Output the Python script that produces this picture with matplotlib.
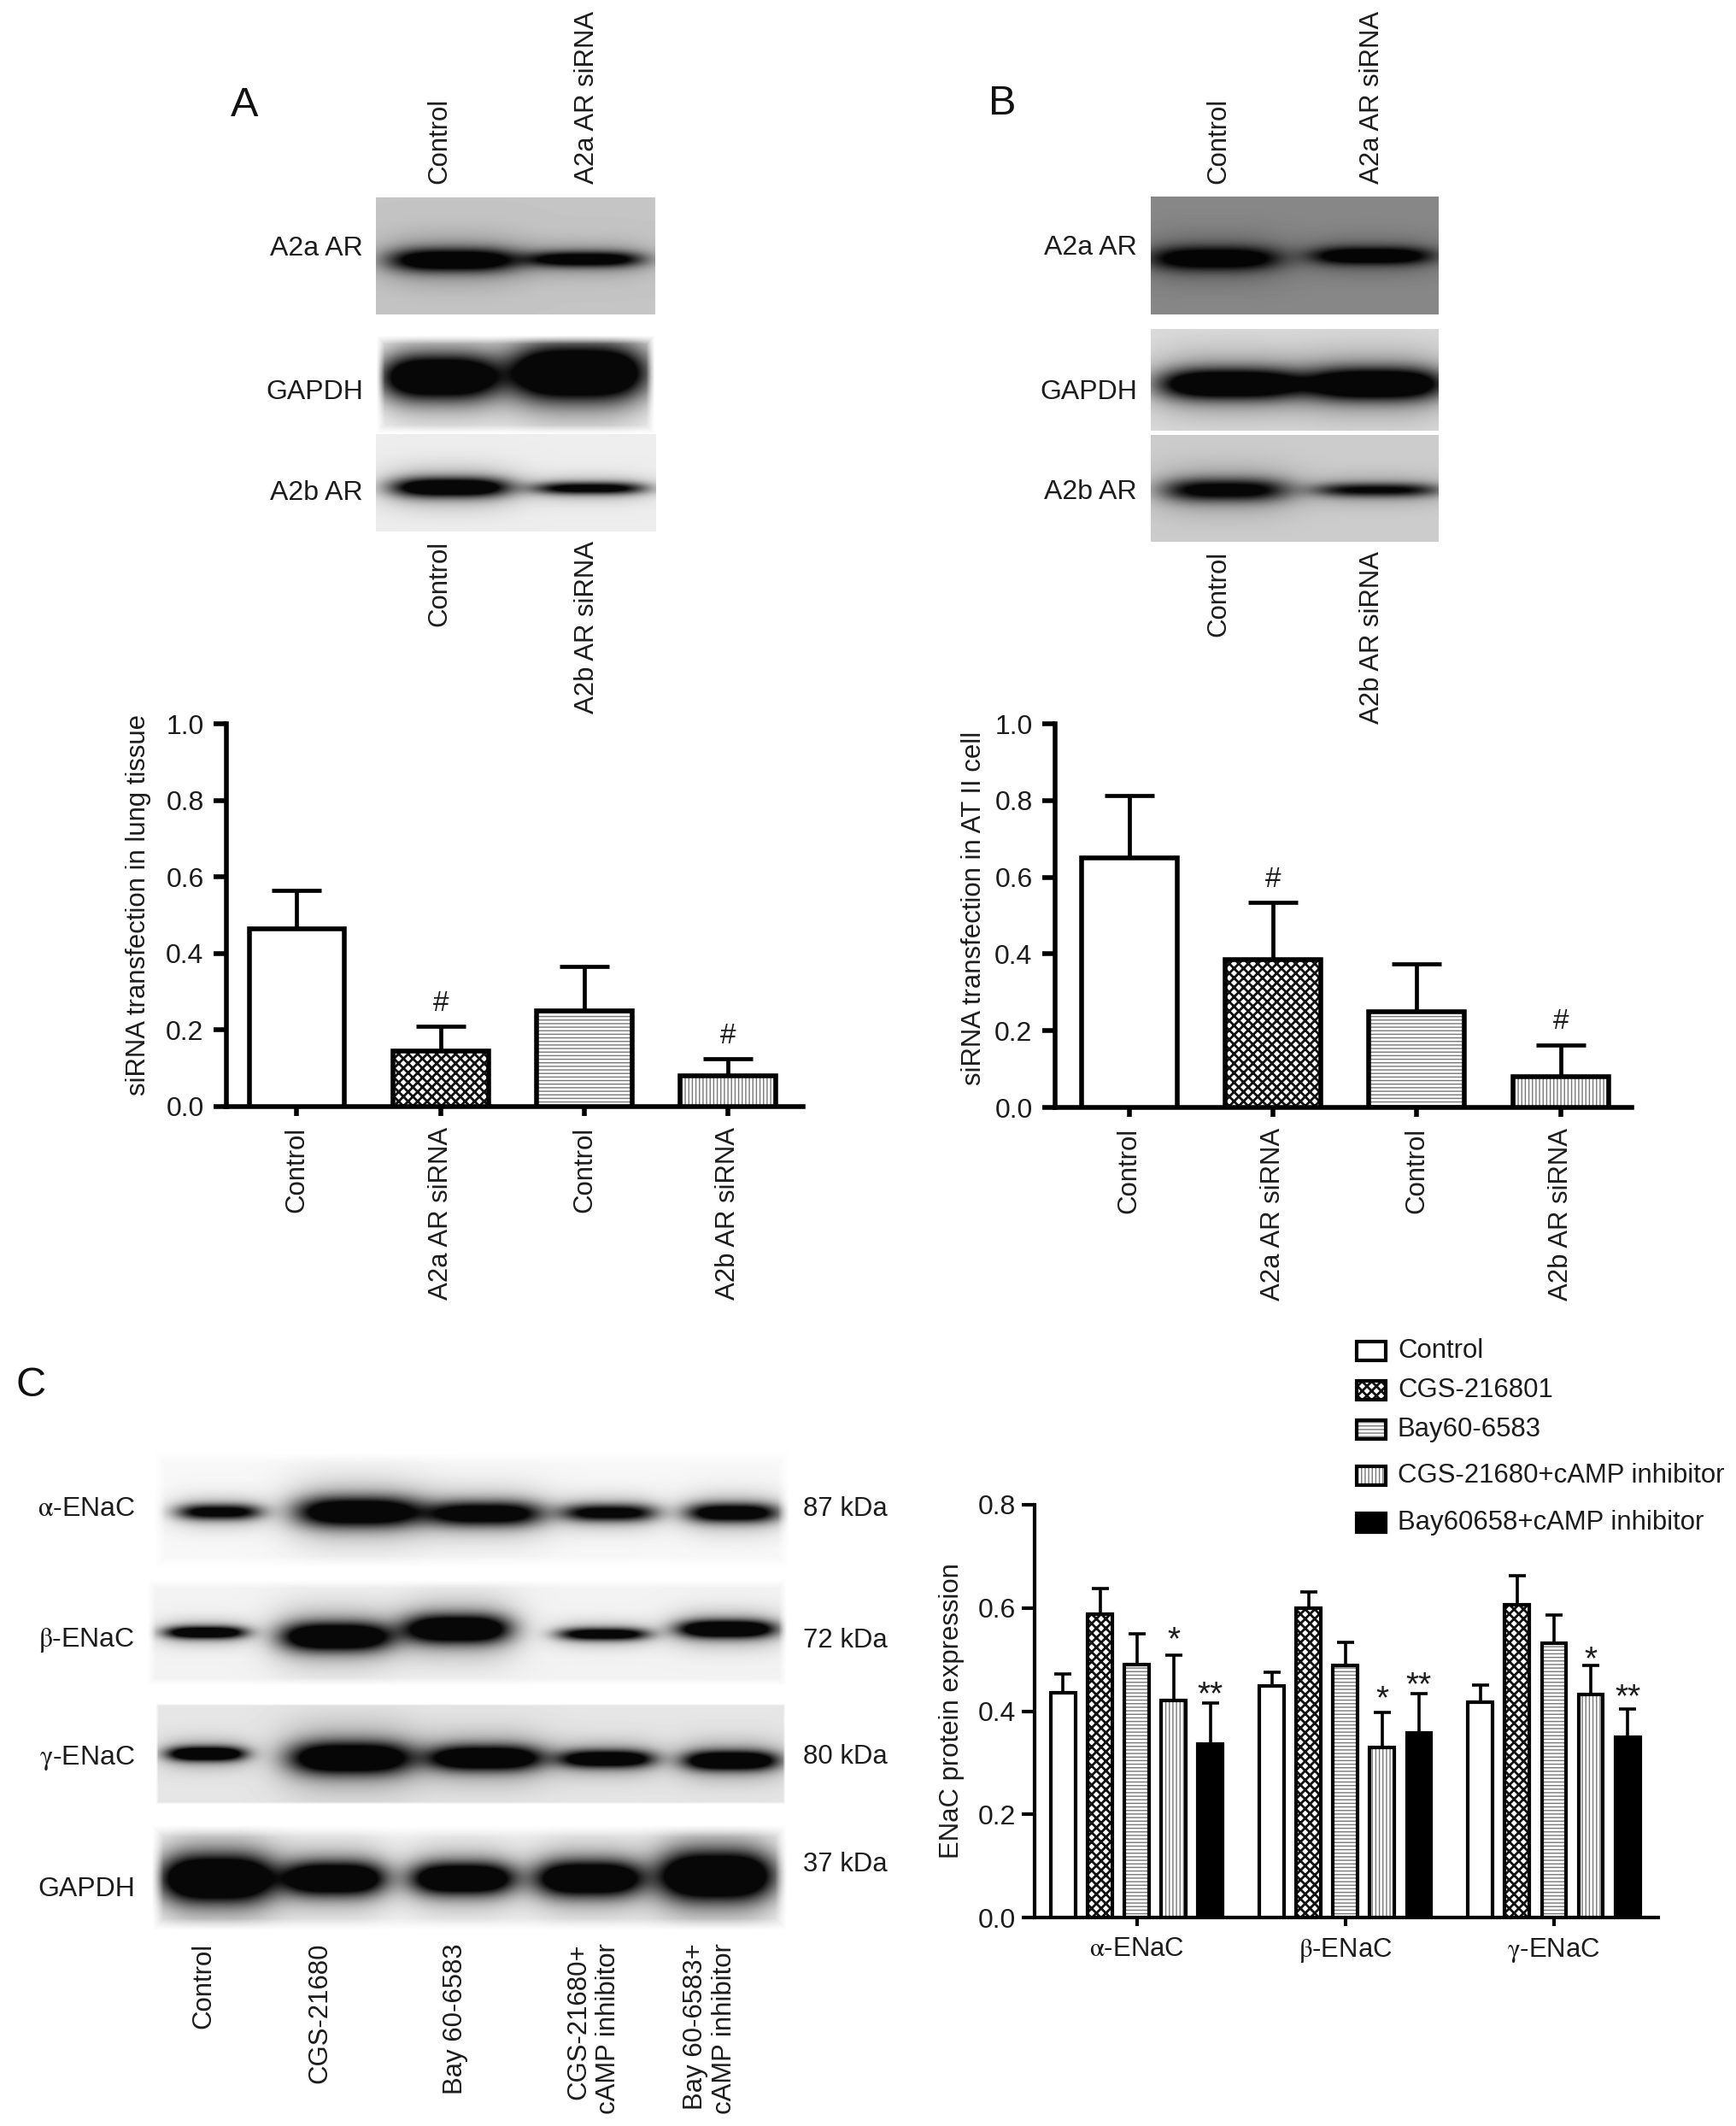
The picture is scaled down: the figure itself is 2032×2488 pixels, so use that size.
import numpy as np
import matplotlib
matplotlib.use('Agg')
import matplotlib.pyplot as plt
from matplotlib.patches import Rectangle

plt.rcParams['font.family'] = ['Liberation Sans', 'DejaVu Sans']
plt.rcParams['mathtext.fontset'] = 'stix'
plt.rcParams['hatch.linewidth'] = 1.0

W, H = 2032, 2488
TXT = '#1c1c1c'
FS = 22.4

# panel A and B bars
ab_labels = ['Control', 'A2a AR siRNA', 'Control', 'A2b AR siRNA']
a_means = [0.465, 0.145, 0.25, 0.08]
a_errs = [0.10, 0.065, 0.117, 0.045]
b_means = [0.65, 0.385, 0.25, 0.08]
b_errs = [0.163, 0.149, 0.125, 0.083]
ab_yticks = [0.0, 0.2, 0.4, 0.6, 0.8, 1.0]

# panel C bars
c_groups = [r'$\mathrm{\alpha}$-ENaC', r'$\mathrm{\beta}$-ENaC', r'$\mathrm{\gamma}$-ENaC']
c_series = ['Control', 'CGS-216801', 'Bay60-6583', 'CGS-21680+cAMP inhibitor', 'Bay60658+cAMP inhibitor']
c_means = [[0.435, 0.449, 0.418],
           [0.588, 0.600, 0.607],
           [0.490, 0.488, 0.531],
           [0.420, 0.330, 0.432],
           [0.337, 0.357, 0.349]]
c_errs = [[0.037, 0.027, 0.032],
          [0.049, 0.031, 0.055],
          [0.060, 0.046, 0.055],
          [0.088, 0.067, 0.057],
          [0.079, 0.077, 0.055]]
# significance marks, with the height they sit at
c_marks = [None, None, None, '*', '**']
c_mark_y = [None, None, None, [0.545, 0.432, 0.508], [0.44, 0.458, 0.434]]
c_yticks = [0.0, 0.2, 0.4, 0.6, 0.8]

# fill styles: face, hatch, hatch colour, hatch width
styles = [('white', None, 'k', 1.0),
          ('white', 'xxx', '#111111', 2.0),
          ('white', '----', '#777777', 1.0),
          ('white', '||||', '#777777', 1.0),
          ('black', None, 'k', 1.0)]

# blots: box (x0, y0, x1, y1), background, edge fade, bands (cx, cy, half w, half h, darkness)
blots = [
    ((440, 231, 767, 368), 0.77, 0, [(530, 304, 76, 13, 1.1), (685, 303, 68, 9, 1.0)]),
    ((440, 392, 767, 508), 0.97, 10, [(514, 441, 68, 25, 1.2), (676, 436, 80, 30, 1.3)]),
    ((440, 508, 768, 622), 0.93, 0, [(527, 570, 70, 11, 1.1), (690, 571, 66, 7, 0.9)]),
    ((1347, 230, 1684, 368), 0.53, 0, [(1422, 302, 76, 13, 1.1), (1605, 299, 72, 10, 1.1)]),
    ((1347, 385, 1684, 504), 0.86, 0, [(1440, 449, 84, 17, 1.2), (1610, 449, 80, 18, 1.2)]),
    ((1347, 509, 1684, 634), 0.80, 0, [(1434, 573, 74, 13, 0.9), (1611, 573, 74, 8, 0.8)]),
    ((179, 1698, 925, 1836), 0.97, 14, [(256, 1769, 50, 9, 0.9), (419, 1769, 74, 17, 1.1),
                                        (568, 1771, 68, 14, 1.0), (713, 1770, 56, 10, 0.9),
                                        (857, 1770, 55, 11, 1.0)]),
    ((172, 1848, 922, 1974), 0.95, 10, [(240, 1910, 48, 7, 1.1), (393, 1915, 65, 16, 1.2),
                                        (535, 1906, 62, 16, 1.2), (706, 1912, 53, 7, 1.0),
                                        (850, 1906, 58, 10, 1.2)]),
    ((182, 1993, 920, 2112), 0.90, 3, [(241, 2052, 46, 8, 1.2), (410, 2057, 72, 18, 1.2),
                                       (568, 2057, 67, 14, 1.2), (710, 2058, 56, 10, 1.1),
                                       (855, 2060, 56, 11, 1.2)]),
    ((177, 2135, 922, 2260), 0.97, 14, [(254, 2198, 66, 26, 1.3), (391, 2198, 60, 19, 1.2),
                                        (541, 2198, 61, 18, 1.2), (689, 2198, 63, 20, 1.2),
                                        (838, 2195, 67, 27, 1.3)]),
]

# text on the picture: label, x, y
panel_marks = [('A', 286, 123), ('B', 1173, 122), ('C', 36, 1622)]
row_labels = [('A2a AR', 425, 291), ('GAPDH', 425, 459), ('A2b AR', 425, 577),
              ('A2a AR', 1331, 290), ('GAPDH', 1331, 459), ('A2b AR', 1331, 576),
              (r'$\mathrm{\alpha}$-ENaC', 158, 1766), (r'$\mathrm{\beta}$-ENaC', 158, 1919),
              (r'$\mathrm{\gamma}$-ENaC', 158, 2058), ('GAPDH', 158, 2211)]
kda_labels = [('87 kDa', 940, 1766), ('72 kDa', 940, 1920), ('80 kDa', 940, 2056), ('37 kDa', 940, 2182)]
lanes_top = [('Control', 514, 215), ('A2a AR siRNA', 687, 215), ('Control', 1426, 215), ('A2a AR siRNA', 1606, 215)]
lanes_low = [('Control', 514, 633), ('A2b AR siRNA', 687, 633), ('Control', 1426, 645), ('A2b AR siRNA', 1606, 645),
             ('Control', 238, 2274), ('CGS-21680', 374, 2274), ('Bay 60-6583', 533, 2274),
             ('CGS-21680+\ncAMP inhibitor', 695, 2274), ('Bay 60-6583+\ncAMP inhibitor', 831, 2274)]
legend_rows = [1581, 1627, 1673, 1727, 1782]


def box_axes(fig, l, t, r, b):
    return fig.add_axes([l / W, 1 - b / H, (r - l) / W, (b - t) / H])


def draw_bar(ax, x, h, w, lw, style):
    face, hatch, hcol, hlw = style
    ax.bar(x, h, w, color=face, edgecolor=hcol, hatch=hatch, linewidth=0, zorder=3, hatch_linewidth=hlw)
    ax.bar(x, h, w, fill=False, edgecolor='k', linewidth=lw, zorder=4)


def style_axes(ax, lw, xlen, ypad):
    for s in ['top', 'right']:
        ax.spines[s].set_visible(False)
    for s in ['left', 'bottom']:
        ax.spines[s].set_linewidth(lw)
    ax.tick_params(axis='y', length=11, width=lw, labelsize=23, pad=ypad, labelcolor=TXT)
    ax.tick_params(axis='x', length=xlen, width=lw, labelsize=FS, pad=9, labelcolor=TXT)
    ax.patch.set_alpha(0)


def ab_chart(fig, box, means, errs, ylabel, marks, lab_x, lab_y, xlim):
    ax = box_axes(fig, *box)
    x = np.arange(4)
    for i in x:
        draw_bar(ax, i, means[i], 0.665, 4, styles[i])
    ax.errorbar(x, means, yerr=[np.zeros(4), errs], fmt='none', ecolor='k',
                elinewidth=3.4, capsize=21, capthick=3.4, zorder=2)
    for i in marks:
        ax.text(i, means[i] + errs[i] + 0.06, '#', ha='center', va='center', fontsize=24, color=TXT)
    ax.set_xlim(*xlim)
    ax.set_ylim(0, 1)
    ax.set_yticks(ab_yticks)
    ax.set_yticklabels(['%.1f' % t for t in ab_yticks])
    ax.set_xticks(x)
    ax.set_xticklabels(ab_labels, rotation=90)
    style_axes(ax, 4, 8, 8)
    ax.set_ylabel(ylabel, fontsize=FS, color=TXT)
    ax.yaxis.set_label_coords(lab_x, lab_y)
    return ax


def blot_image(box, bg, fade, bands):
    x0, y0, x1, y1 = box
    xs, ys = np.meshgrid(np.arange(x0, x1), np.arange(y0, y1))
    dark = np.zeros(xs.shape)
    for cx, cy, hw, hh, d in bands:
        core = np.exp(-np.abs((xs - cx) / hw) ** 3.5) * np.exp(-((ys - cy) / hh) ** 2)
        halo = np.exp(-np.abs((xs - cx) / (1.12 * hw)) ** 3) * np.exp(-((ys - cy) / (2.2 * hh)) ** 2)
        dark += d * core + 0.3 * d * halo
    img = bg * (1 - np.clip(dark, 0, 0.97))
    if fade:
        edge = np.minimum.reduce([xs - x0, x1 - 1 - xs, ys - y0, y1 - 1 - ys]) / fade
        img = 1 - (1 - img) * np.clip(edge, 0, 1)
    return np.clip(img, 0, 1)


fig = plt.figure(figsize=(W / 100, H / 100), dpi=100, facecolor='white')

ax_a = ab_chart(fig, (265, 847, 940, 1295), a_means, a_errs, 'siRNA transfection in lung tissue', [1, 3], -0.130, 0.527, (-0.49, 3.52))
ax_b = ab_chart(fig, (1235, 847, 1910, 1296), b_means, b_errs, 'siRNA transfection in AT II cell', [1, 3], -0.118, 0.52, (-0.515, 3.495))

# panel C
ax_c = box_axes(fig, 1211, 1761, 1941, 2244)
step = 0.1765
for i, (m, e) in enumerate(zip(c_means, c_errs)):
    pos = np.arange(3) + (i - 2) * step
    draw_bar(ax_c, pos, m, 0.118, 3, styles[i])
    ax_c.errorbar(pos, m, yerr=[np.zeros(3), e], fmt='none', ecolor='k',
                  elinewidth=2.6, capsize=7, capthick=2.6, zorder=2)
    if c_marks[i]:
        for p, y in zip(pos, c_mark_y[i]):
            ax_c.text(p, y - 0.026, c_marks[i], ha='center', va='baseline', fontsize=28, color=TXT)
ax_c.set_xlim(-0.49, 2.5)
ax_c.set_ylim(0, 0.8)
ax_c.set_yticks(c_yticks)
ax_c.set_yticklabels(['%.1f' % t for t in c_yticks])
ax_c.set_xticks(np.arange(3))
ax_c.set_xticklabels(c_groups)
style_axes(ax_c, 3, 7, 5)
ax_c.set_ylabel('ENaC protein expression', fontsize=FS, color=TXT)
ax_c.yaxis.set_label_coords(-0.113, 0.5)

# everything placed by picture position goes on one full size layer
over = fig.add_axes([0, 0, 1, 1])
over.patch.set_alpha(0)
over.axis('off')
for box, bg, fade, bands in blots:
    over.imshow(blot_image(box, bg, fade, bands), cmap='gray', vmin=0, vmax=1, aspect='auto',
                interpolation='bilinear', extent=(box[0], box[2], box[3], box[1]))
over.set_xlim(0, W)
over.set_ylim(H, 0)

for t, x, y in panel_marks:
    over.text(x, y, t, fontsize=35, ha='center', va='center', color='#111111')
for t, x, y in row_labels:
    over.text(x, y, t, fontsize=23, ha='right', va='center', color=TXT)
for t, x, y in kda_labels:
    over.text(x, y, t, fontsize=FS, ha='left', va='center', color=TXT)
for t, x, y in lanes_top:
    over.text(x, y, t, fontsize=FS, rotation=90, ha='center', va='bottom', color=TXT)
for t, x, y in lanes_low:
    over.text(x, y, t, fontsize=FS, rotation=90, ha='center', va='top', multialignment='right', color=TXT)

for name, y, st in zip(c_series, legend_rows, styles):
    over.add_patch(Rectangle((1588, y - 11), 34, 22, facecolor=st[0], edgecolor=st[2], hatch=st[1], linewidth=0, hatch_linewidth=st[3]))
    over.add_patch(Rectangle((1588, y - 11), 34, 22, fill=False, edgecolor='k', linewidth=3))
    over.text(1636, y, name, fontsize=FS, ha='left', va='center', color=TXT)

fig.savefig('out.png', dpi=100)
